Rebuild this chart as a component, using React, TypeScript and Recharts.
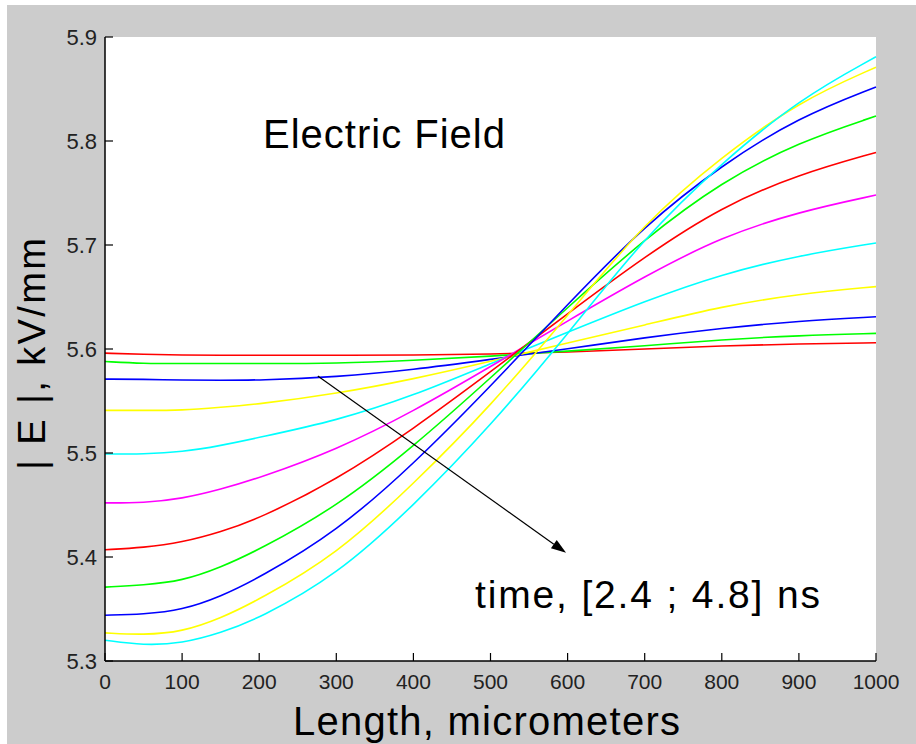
import { LineChart, Line, XAxis, YAxis, ReferenceLine } from "recharts";

// positions along the device, micrometers
const lengths = [0, 50, 100, 150, 200, 300, 400, 500, 600, 700, 800, 900, 1000];

// |E| in kV/mm, one array per time step (earliest first)
const t1 = [5.596, 5.595, 5.594, 5.594, 5.594, 5.594, 5.594, 5.595, 5.597, 5.600, 5.603, 5.605, 5.606];
const t2 = [5.588, 5.586, 5.586, 5.586, 5.586, 5.586, 5.589, 5.593, 5.598, 5.603, 5.609, 5.613, 5.615];
const t3 = [5.571, 5.571, 5.570, 5.570, 5.570, 5.573, 5.580, 5.590, 5.600, 5.611, 5.620, 5.627, 5.631];
const t4 = [5.541, 5.541, 5.541, 5.544, 5.547, 5.557, 5.571, 5.588, 5.606, 5.623, 5.641, 5.653, 5.660];
const t5 = [5.499, 5.499, 5.501, 5.507, 5.515, 5.531, 5.555, 5.586, 5.616, 5.646, 5.672, 5.690, 5.702];
const t6 = [5.452, 5.452, 5.456, 5.465, 5.476, 5.503, 5.540, 5.583, 5.627, 5.670, 5.708, 5.732, 5.748];
const t7 = [5.407, 5.409, 5.414, 5.424, 5.437, 5.474, 5.523, 5.578, 5.634, 5.689, 5.737, 5.768, 5.789];
const t8 = [5.371, 5.373, 5.377, 5.390, 5.407, 5.448, 5.506, 5.572, 5.640, 5.706, 5.761, 5.799, 5.824];
const t9 = [5.344, 5.345, 5.349, 5.362, 5.380, 5.424, 5.489, 5.564, 5.643, 5.719, 5.777, 5.823, 5.852];
const t10 = [5.327, 5.325, 5.328, 5.341, 5.359, 5.402, 5.470, 5.545, 5.632, 5.722, 5.785, 5.838, 5.871];
const t11 = [5.320, 5.315, 5.317, 5.327, 5.341, 5.382, 5.449, 5.526, 5.614, 5.708, 5.779, 5.840, 5.881];

const seriesList = [t1, t2, t3, t4, t5, t6, t7, t8, t9, t10, t11];
const colors = ["#ff0000", "#00ff00", "#0000ff", "#ffff00", "#00ffff", "#ff00ff", "#ff0000", "#00ff00", "#0000ff", "#ffff00", "#00ffff"];

const xTicks = [0, 100, 200, 300, 400, 500, 600, 700, 800, 900, 1000];
const yTicks = [5.3, 5.4, 5.5, 5.6, 5.7, 5.8, 5.9];

// arrow showing time direction, in data units
const arrowFrom = { x: 276, y: 5.574 };
const arrowTo = { x: 598, y: 5.404 };

const data = lengths.map((x, i) => {
  const row: Record<string, number> = { x };
  seriesList.forEach((s, k) => (row[`t${k + 1}`] = s[i]));
  return row;
});

const FONT = '"Liberation Sans", Arial, sans-serif';

function Arrow(props: any) {
  const { x1, y1, x2, y2 } = props;
  const ang = Math.atan2(y2 - y1, x2 - x1);
  const len = 15;
  const half = 5;
  const bx = x2 - len * Math.cos(ang);
  const by = y2 - len * Math.sin(ang);
  const px = -Math.sin(ang) * half;
  const py = Math.cos(ang) * half;
  return (
    <g>
      <line x1={x1} y1={y1} x2={bx} y2={by} stroke="#000" strokeWidth={1.2} />
      <polygon points={`${x2},${y2} ${bx + px},${by + py} ${bx - px},${by - py}`} fill="#000" />
    </g>
  );
}

export default function App() {
  return (
    <div style={{ position: "absolute", left: 0, top: 0, width: 916, height: 744, background: "#fff", fontFamily: FONT }}>
      <div style={{ position: "absolute", left: 7, top: 5, right: 0, bottom: 0, background: "#cccccc" }} />
      <div style={{ position: "absolute", left: 105, top: 37, width: 771, height: 624, background: "#fff" }} />
      <div style={{ position: "absolute", left: 0, top: 0 }}>
        <LineChart width={916} height={744} data={data} margin={{ top: 37, right: 40, left: 45, bottom: 43 }}>
          <XAxis
            dataKey="x"
            type="number"
            domain={[0, 1000]}
            ticks={xTicks}
            height={40}
            axisLine={{ stroke: "#000", strokeWidth: 1.5 }}
            tickLine={{ stroke: "#000", strokeWidth: 1.2 }}
            tickSize={-8}
            tickMargin={21}
            tick={{ fill: "#222", fontSize: 21, fontFamily: FONT }}
            interval={0}
          />
          <YAxis
            type="number"
            domain={[5.3, 5.9]}
            ticks={yTicks}
            width={60}
            axisLine={{ stroke: "#000", strokeWidth: 1.5 }}
            tickLine={{ stroke: "#000", strokeWidth: 1.2 }}
            tickSize={-8}
            tickMargin={16}
            tickFormatter={(v: number) => v.toFixed(1)}
            tick={{ fill: "#222", fontSize: 22, fontFamily: FONT }}
            interval={0}
          />
          {seriesList.map((_, k) => (
            <Line
              key={k}
              dataKey={`t${k + 1}`}
              type="basis"
              stroke={colors[k]}
              strokeWidth={1.6}
              dot={false}
              activeDot={false}
              isAnimationActive={false}
            />
          ))}
          <ReferenceLine segment={[arrowFrom, arrowTo]} shape={Arrow} />
        </LineChart>
      </div>
      <svg width={916} height={744} style={{ position: "absolute", left: 0, top: 0, pointerEvents: "none" }}>
        <text x={263} y={148} fontSize={40} fontFamily={FONT} fill="#000" textLength={242} lengthAdjust="spacing">
          Electric Field
        </text>
        <text x={475} y={608} fontSize={39} fontFamily={FONT} fill="#000" textLength={345} lengthAdjust="spacing">
          time, [2.4 ; 4.8] ns
        </text>
        <text x={293} y={735} fontSize={40} fontFamily={FONT} fill="#000" textLength={387} lengthAdjust="spacing">
          Length, micrometers
        </text>
        <text
          x={45}
          y={470}
          transform="rotate(-90 45 470)"
          fontSize={38}
          fontFamily={FONT}
          fill="#000"
          textLength={232}
          lengthAdjust="spacing"
        >
          | E |, kV/mm
        </text>
      </svg>
    </div>
  );
}
